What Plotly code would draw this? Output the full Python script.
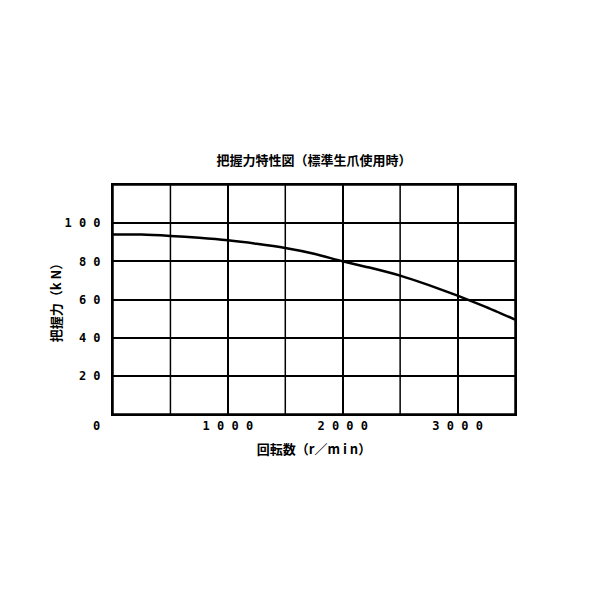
import plotly.graph_objects as go

# --- Données ---
speed_rpm = [0, 250, 500, 750, 1000, 1250, 1500, 1750, 2000, 2250, 2500, 2750, 3000, 3250, 3500]
grip_kn = [94.0, 94.0, 93.3, 92.3, 91.0, 89.2, 87.0, 84.0, 80.0, 76.5, 72.5, 67.5, 62.0, 56.0, 49.5]

x_ticks = [1000, 2000, 3000]
x_tick_text = ["1 0 0 0", "2 0 0 0", "3 0 0 0"]
y_ticks = [20, 40, 60, 80, 100]
y_tick_text = ["2 0", "4 0", "6 0", "8 0", "1 0 0"]
origin_label = "0"

title_text = "把握力特性図（標準生爪使用時）"
x_title = "回転数（r／m i n）"
y_title = "把握力（k N）"

jp_font = "Noto Sans CJK JP"
num_font = "DejaVu Sans Mono"

fig = go.Figure()
fig.add_trace(go.Scatter(
    x=speed_rpm, y=grip_kn, mode="lines",
    line=dict(color="black", width=2.5, shape="spline", smoothing=0.6),
    showlegend=False, hoverinfo="skip",
))

grid = dict(showgrid=True, gridcolor="black", gridwidth=1.5, zeroline=False,
            showline=True, linecolor="black", linewidth=2, mirror=True,
            ticks="", fixedrange=True)
num_tick_font = dict(family=num_font, size=12, color="black", weight="bold")

fig.update_xaxes(range=[0, 3500], tickmode="array", tickvals=x_ticks, ticktext=x_tick_text,
                 tickfont=num_tick_font, **grid)
fig.update_yaxes(range=[0, 120], tickmode="array", tickvals=y_ticks, ticktext=y_tick_text,
                 tickfont=num_tick_font, ticklabelstandoff=8, **grid)

# Grille complète tous les 500 / 20 (les graduations étiquetées ne couvrent pas tout)
for v in range(0, 3501, 500):
    if v not in x_ticks:
        fig.add_shape(type="line", x0=v, x1=v, y0=0, y1=120, xref="x", yref="y",
                      line=dict(color="black", width=1.5), layer="below")
for v in range(0, 121, 20):
    if v not in y_ticks:
        fig.add_shape(type="line", x0=0, x1=3500, y0=v, y1=v, xref="x", yref="y",
                      line=dict(color="black", width=1.5), layer="below")

fig.add_annotation(text=origin_label, x=-0.04, y=0, xref="paper", yref="paper",
                   xanchor="center", yanchor="top", yshift=-3,
                   showarrow=False, font=num_tick_font)

fig.update_layout(
    width=600, height=600,
    margin=dict(l=105, r=93, t=177, b=194, autoexpand=False),
    paper_bgcolor="white", plot_bgcolor="white",
    title=dict(text=title_text, x=(105 + 201) / 600, xanchor="center", y=1 - 152 / 600,
               yanchor="middle", font=dict(family=jp_font, size=13, color="black", weight="bold")),
    xaxis_title=dict(text=x_title, font=dict(family=jp_font, size=13, color="black", weight="bold"),
                     standoff=12),
    yaxis_title=dict(text=y_title, font=dict(family=jp_font, size=13, color="black", weight="bold"),
                     standoff=0),
)

fig.write_html("out.html")
